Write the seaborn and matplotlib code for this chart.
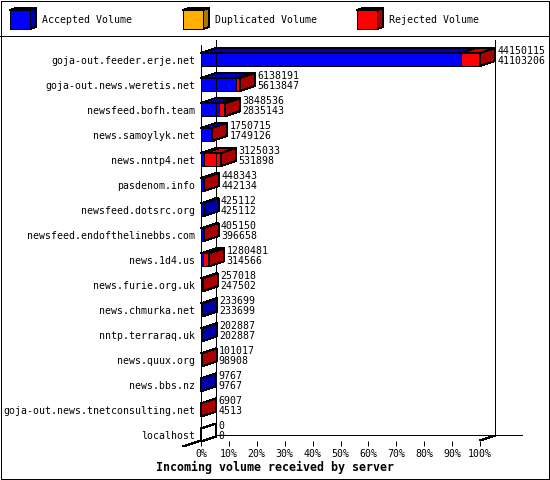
import matplotlib
matplotlib.use("Agg")
import matplotlib.pyplot as plt
from matplotlib.patches import Polygon, Rectangle
import seaborn as sns

hosts = [
    "goja-out.feeder.erje.net",
    "goja-out.news.weretis.net",
    "newsfeed.bofh.team",
    "news.samoylyk.net",
    "news.nntp4.net",
    "pasdenom.info",
    "newsfeed.dotsrc.org",
    "newsfeed.endofthelinebbs.com",
    "news.1d4.us",
    "news.furie.org.uk",
    "news.chmurka.net",
    "nntp.terraraq.uk",
    "news.quux.org",
    "news.bbs.nz",
    "goja-out.news.tnetconsulting.net",
    "localhost",
]
offered = [44150115, 6138191, 3848536, 1750715, 3125033, 448343, 425112, 405150,
           1280481, 257018, 233699, 202887, 101017, 9767, 6907, 0]
accepted = [41103206, 5613847, 2835143, 1749126, 531898, 442134, 425112, 396658,
            314566, 247502, 233699, 202887, 98908, 9767, 4513, 0]
legend_labels = ["Accepted Volume", "Duplicated Volume", "Rejected Volume"]
tick_pct = list(range(0, 101, 10))

peak = max(offered)
pct_total = [v / peak * 100 for v in offered]
pct_acc = [v / peak * 100 for v in accepted]

sns.set_style("white")
plt.rcParams["font.family"] = ["DejaVu Sans Mono"]
plt.rcParams["text.color"] = "black"
plt.rcParams["xtick.color"] = "black"
plt.rcParams["ytick.color"] = "black"
plt.rcParams["xtick.labelcolor"] = "black"
plt.rcParams["ytick.labelcolor"] = "black"
plt.rcParams["patch.antialiased"] = False
plt.rcParams["lines.antialiased"] = False
FS = 7.1
LW = 0.72

BLUE, BLUE_TOP, BLUE_SIDE = "#0000ff", "#0000bb", "#0000aa"
RED, RED_TOP, RED_SIDE = "#ff0000", "#cc0000", "#aa0000"
ORANGE, ORANGE_SIDE = "#ffb000", "#aa7700"

fig = plt.figure(figsize=(5.5, 4.8), dpi=100)

# background layer in pixel units: border, legend strip
lax = fig.add_axes([0, 0, 1, 1])
lax.set_xlim(0, 550)
lax.set_ylim(480, 0)
lax.axis("off")
lax.add_patch(Rectangle((0.5, 0.5), 548.5, 478.5, fill=False, ec="black", lw=LW))
lax.plot([0, 550], [35.5, 35.5], color="black", lw=LW)

leg_x = [10, 183, 357]
leg_cols = [(BLUE, BLUE_SIDE), (ORANGE, ORANGE_SIDE), (RED, RED_SIDE)]
for x0, (front, side), lab in zip(leg_x, leg_cols, legend_labels):
    lax.add_patch(Polygon([(x0, 10), (x0 + 6, 8), (x0 + 26, 8), (x0 + 20, 10)],
                          closed=True, fc=side, ec="black", lw=LW))
    lax.add_patch(Polygon([(x0 + 20, 10), (x0 + 26, 8), (x0 + 26, 27), (x0 + 20, 29)],
                          closed=True, fc=side, ec="black", lw=LW))
    lax.add_patch(Rectangle((x0, 10), 20, 19, fc=front, ec="black", lw=LW))
    lax.text(x0 + 32, 20, lab, fontsize=FS, va="center", ha="left")

# main chart
ax = fig.add_axes([201 / 550, 39.5 / 480, 279 / 550, 395.5 / 480])
ax.set_facecolor("none")

sns.barplot(x=pct_total, y=hosts, orient="h", color=RED, saturation=1,
            width=0.52, edgecolor="black", linewidth=LW, ax=ax)
sns.barplot(x=pct_acc, y=hosts, orient="h", color=BLUE, saturation=1,
            width=0.52, edgecolor="black", linewidth=LW, ax=ax)

dx = 15 / 2.79
dy = 0.2
h = 0.26
ax.set_xlim(0, 100)
ax.set_ylim(15.22, -0.58)

for i, (t, a) in enumerate(zip(pct_total, pct_acc)):
    top = i - h
    bot = i + h
    segs = [(0, a, BLUE_TOP), (a, t, RED_TOP)]
    for x0, x1, col in segs:
        if x1 - x0 > 0:
            ax.add_patch(Polygon([(x0, top), (x1, top), (x1 + dx, top - dy), (x0 + dx, top - dy)],
                                 closed=True, fc=col, ec="black", lw=LW, clip_on=False, zorder=3))
    if offered[i] == 0:
        side = "white"
    elif offered[i] > accepted[i]:
        side = RED_SIDE
    else:
        side = BLUE_SIDE
    ax.add_patch(Polygon([(t, top), (t + dx, top - dy), (t + dx, bot - dy), (t, bot)],
                         closed=True, fc=side, ec="black", lw=LW, clip_on=False, zorder=3))
    ax.text(t + dx + 0.8, i - 0.34, str(offered[i]), fontsize=FS, va="center", ha="left", clip_on=False)
    ax.text(t + dx + 0.8, i + 0.06, str(accepted[i]), fontsize=FS, va="center", ha="left", clip_on=False)

# walls and floor
wall_top = -0.58 - dy
floor_y = 15.22 - dy
kw = dict(color="black", lw=LW, clip_on=False, zorder=1)
ax.plot([dx, dx], [wall_top, floor_y], **kw)
ax.plot([100 + dx, 100 + dx], [wall_top, floor_y], **kw)
ax.plot([dx, 115.05], [floor_y, floor_y], **kw)
ax.plot([100, 100 + dx], [15.22, floor_y], **kw)
ax.plot([-6.45, 0, dx], [15.22 + 6.45 / dx * dy, 15.22, floor_y], **kw)

for s in ["top", "right", "bottom"]:
    ax.spines[s].set_visible(False)
ax.spines["left"].set_linewidth(LW)
ax.spines["left"].set_color("black")

ax.set_xticks(tick_pct)
ax.set_xticklabels([f"{p}%" for p in tick_pct])
ax.tick_params(axis="x", direction="out", length=3.6, width=LW, pad=2.5,
               labelsize=FS, colors="black", bottom=True)
ax.tick_params(axis="y", length=0, pad=4.3, labelsize=FS, colors="black")
ax.set_xlabel("")
ax.set_ylabel("")

fig.text(0.5, 1 - 467 / 480, "Incoming volume received by server", fontsize=8.4,
         fontweight="bold", ha="center", va="center", color="black")

fig.savefig("out.png", dpi=100)
